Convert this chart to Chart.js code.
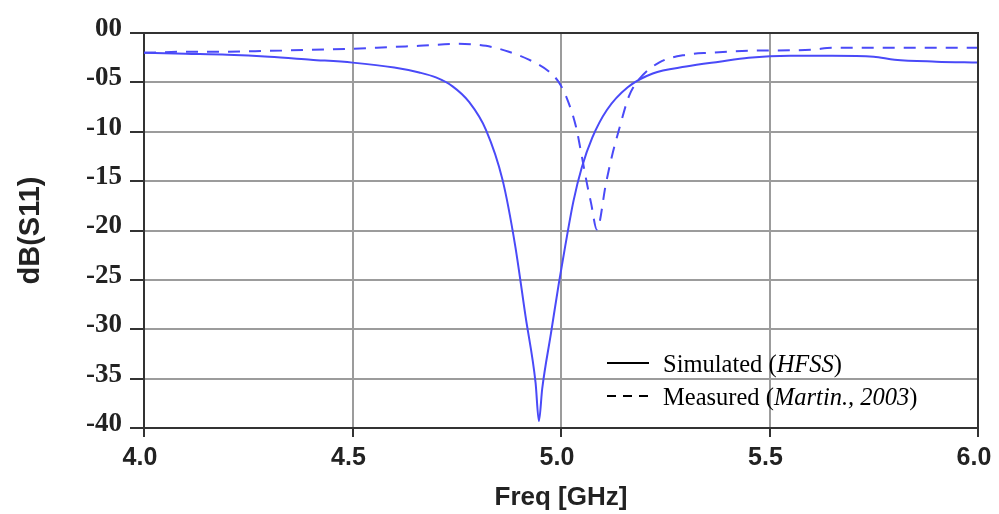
<!DOCTYPE html>
<html>
<head>
<meta charset="utf-8">
<script src="https://cdn.jsdelivr.net/npm/chart.js"></script>
<style>
  html, body { margin: 0; padding: 0; background: #fff; }
  #wrap { width: 999px; height: 514px; }
</style>
</head>
<body>
<div id="wrap"><canvas id="s11Chart"></canvas></div>
<script>
// Simulated (HFSS) curve
const simFreq = [4.0, 4.1, 4.2, 4.3, 4.4, 4.5, 4.6, 4.66, 4.70, 4.74, 4.78, 4.82, 4.86, 4.89, 4.915, 4.939, 4.947,
                 4.955, 4.976, 4.995, 5.01, 5.03, 5.05, 5.075, 5.11, 5.16, 5.22, 5.30, 5.38, 5.45, 5.55,
                 5.65, 5.75, 5.8, 5.9, 6.0];
const simDb = [-2.0, -2.1, -2.2, -2.4, -2.7, -3.0, -3.5, -4.0, -4.5, -5.4, -7.0, -9.8, -14.9, -21.5, -28.7, -35.4, -39.3,
               -36.0, -30.4, -25.3, -21.6, -17.0, -13.6, -10.6, -7.8, -5.5, -4.1, -3.4, -2.9, -2.5, -2.3,
               -2.3, -2.4, -2.7, -2.9, -3.0];

// Measured (Martin, 2003) curve
const measFreq = [4.0, 4.1, 4.2, 4.3, 4.4, 4.5, 4.6, 4.66, 4.75, 4.82, 4.875, 4.923, 4.971, 4.995, 5.012, 5.036,
                  5.05, 5.062, 5.072, 5.086, 5.108, 5.122, 5.139, 5.163, 5.187, 5.235, 5.30, 5.36, 5.45, 5.6,
                  5.65, 5.8, 6.0];
const measDb = [-2.0, -1.9, -1.9, -1.8, -1.7, -1.6, -1.4, -1.3, -1.1, -1.3, -1.9, -2.7, -3.9, -5.0, -6.4, -9.5,
                -12.5, -15.2, -17.2, -19.9, -15.2, -12.5, -9.8, -6.4, -4.7, -3.0, -2.2, -2.0, -1.8, -1.7,
                -1.5, -1.5, -1.5];

const xTicks = [4.0, 4.5, 5.0, 5.5, 6.0];
const yTickLabels = { '0': '00', '-5': '-05' };

const lineBlue = '#4a4af8';

function toPoints(xs, ys) {
    return xs.map((x, i) => ({ x: x, y: ys[i] }));
}

// legend drawn inside the plot, with the italic parts of the labels
const insideLegend = {
    id: 'insideLegend',
    afterDraw(chart) {
        const ctx = chart.ctx;
        const rows = [
            { y: 363, dash: [], parts: [['Simulated (', false], ['HFSS', true], [')', false]] },
            { y: 396, dash: [9, 7], parts: [['Measured (', false], ['Martin., 2003', true], [')', false]] }
        ];
        ctx.save();
        rows.forEach(r => {
            ctx.strokeStyle = '#000';
            ctx.lineWidth = 2;
            ctx.setLineDash(r.dash);
            ctx.beginPath();
            ctx.moveTo(607, r.y);
            ctx.lineTo(649, r.y);
            ctx.stroke();
            ctx.setLineDash([]);
            let x = 663;
            ctx.fillStyle = '#000';
            ctx.textBaseline = 'alphabetic';
            r.parts.forEach(p => {
                ctx.font = (p[1] ? 'italic ' : '') + '24.5px "Liberation Serif", "Times New Roman", serif';
                ctx.fillText(p[0], x, r.y + 9);
                x += ctx.measureText(p[0]).width;
            });
        });
        ctx.restore();
    }
};

const ctx = document.getElementById('s11Chart').getContext('2d');
new Chart(ctx, {
    type: 'line',
    data: {
        datasets: [
            {
                label: 'Simulated (HFSS)',
                data: toPoints(simFreq, simDb),
                borderColor: lineBlue,
                borderWidth: 2,
                pointRadius: 0,
                cubicInterpolationMode: 'monotone',
                fill: false
            },
            {
                label: 'Measured (Martin., 2003)',
                data: toPoints(measFreq, measDb),
                borderColor: lineBlue,
                borderWidth: 2,
                borderDash: [12, 9],
                pointRadius: 0,
                cubicInterpolationMode: 'monotone',
                fill: false
            }
        ]
    },
    options: {
        responsive: true,
        maintainAspectRatio: false,
        animation: false,
        layout: { padding: { top: 33, right: 21, left: 0, bottom: 0 } },
        plugins: {
            legend: { display: false },
            tooltip: { enabled: false }
        },
        scales: {
            x: {
                type: 'linear',
                min: 4.0,
                max: 6.0,
                afterFit: s => { s.height = 86; s.paddingLeft = 0; s.paddingRight = 0; },
                afterBuildTicks: s => { s.ticks = xTicks.map(v => ({ value: v })); },
                border: { display: true, color: '#333', width: 2 },
                grid: { color: '#9c9c9c', lineWidth: 2, tickColor: '#333', tickLength: 9, drawTicks: true },
                ticks: {
                    padding: 6,
                    labelOffset: -4,
                    color: '#222',
                    font: { family: '"Liberation Sans", Arial, sans-serif', size: 25, weight: 'bold' },
                    callback: v => Number(v).toFixed(1),
                    maxRotation: 0
                },
                title: {
                    display: true,
                    text: 'Freq [GHz]',
                    color: '#222',
                    padding: 1,
                    font: { family: '"Liberation Sans", Arial, sans-serif', size: 26, weight: 'bold' }
                }
            },
            y: {
                min: -40,
                max: 0,
                afterFit: s => { s.width = 144; s.paddingTop = 0; s.paddingBottom = 0; },
                border: { display: true, color: '#333', width: 2 },
                grid: { color: '#9c9c9c', lineWidth: 2, tickColor: '#333', tickLength: 14, drawTicks: true },
                ticks: {
                    stepSize: 5,
                    padding: 8,
                    labelOffset: -4,
                    color: '#222',
                    font: { family: '"Liberation Serif", "Times New Roman", serif', size: 27, weight: 'bold' },
                    callback: v => yTickLabels[String(v)] || String(v)
                },
                title: {
                    display: true,
                    text: 'dB(S11)',
                    color: '#222',
                    padding: { top: 14, bottom: 0 },
                    font: { family: '"Liberation Sans", Arial, sans-serif', size: 29, weight: 'bold' }
                }
            }
        }
    },
    plugins: [insideLegend, {
        id: 'rightBorder',
        afterDraw(chart) {
            const a = chart.chartArea, c = chart.ctx;
            c.save();
            c.strokeStyle = '#333';
            c.lineWidth = 2;
            c.beginPath();
            c.moveTo(a.left, a.top);
            c.lineTo(a.right, a.top);
            c.lineTo(a.right, a.bottom);
            c.stroke();
            c.restore();
        }
    }]
});
</script>
</body>
</html>
